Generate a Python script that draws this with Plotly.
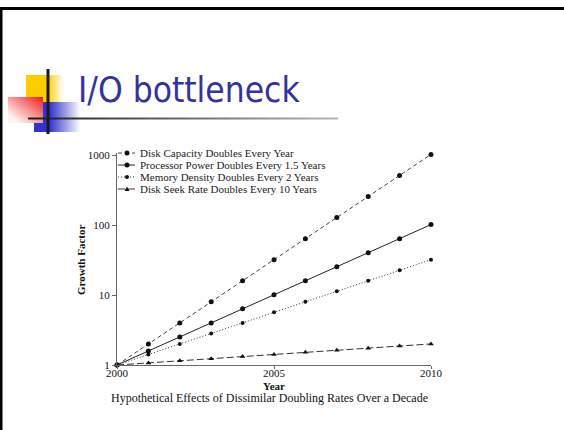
import plotly.graph_objects as go

# ---------------- data ----------------
years = [2000, 2001, 2002, 2003, 2004, 2005, 2006, 2007, 2008, 2009, 2010]
disk_capacity = [1, 2, 4, 8, 16, 32, 64, 128, 256, 512, 1024]
processor_power = [1, 1.59, 2.52, 4.0, 6.35, 10.1, 16.0, 25.4, 40.3, 64.0, 101.6]
memory_density = [1, 1.41, 2.0, 2.83, 4.0, 5.66, 8.0, 11.3, 16.0, 22.6, 32.0]
disk_seek = [1, 1.07, 1.15, 1.23, 1.32, 1.41, 1.52, 1.62, 1.74, 1.87, 2.0]

series_names = [
    "Disk Capacity Doubles Every Year",
    "Processor Power Doubles Every 1.5 Years",
    "Memory Density Doubles Every 2 Years",
    "Disk Seek Rate Doubles Every 10 Years",
]
y_tick_vals = [1, 10, 100, 1000]
y_tick_text = ["1", "10", "100", "1000"]
x_tick_vals = [2000, 2005, 2010]
x_tick_text = ["2000", "2005", "2010"]
slide_title = "I/O bottleneck"
caption = "Hypothetical Effects of Dissimilar Doubling Rates Over a Decade"

# ---------------- layout geometry ----------------
W, H = 564, 430
L, R, T, B = 117, 133, 153, 65
PW, PH = W - L - R, H - T - B


def X(px):
    return (px - L) / PW


def Y(py):
    return (H - B - py) / PH


SERIF = "Liberation Serif, Times New Roman, serif"

styles = [
    dict(dash="4px,3px", symbol="circle", msize=5, col="#444"),
    dict(dash="solid", symbol="circle", msize=5, col="#222"),
    dict(dash="1px,2px", symbol="circle", msize=4, col="#333"),
    dict(dash="7px,3px", symbol="triangle-up", msize=5, col="#333"),
]
all_series = [disk_capacity, processor_power, memory_density, disk_seek]

fig = go.Figure()
for name, vals, st in zip(series_names, all_series, styles):
    fig.add_trace(go.Scatter(
        x=years, y=vals, name=name, mode="lines+markers",
        line=dict(color=st["col"], width=1, dash=st["dash"]),
        marker=dict(symbol=st["symbol"], size=st["msize"], color="#111"),
        cliponaxis=False, showlegend=False,
    ))

shapes = []
annotations = []

# ---------- manual compact legend ----------
leg_y = [153, 165, 177, 189]
for name, st, ly in zip(series_names, styles, leg_y):
    shapes.append(dict(type="line", xref="paper", yref="paper",
                       x0=X(118), x1=X(135), y0=Y(ly), y1=Y(ly),
                       line=dict(color=st["col"], width=1, dash=st["dash"])))
    if st["symbol"] == "circle":
        r = st["msize"] / 2
        shapes.append(dict(type="circle", xref="paper", yref="paper",
                           xsizemode="pixel", ysizemode="pixel",
                           xanchor=X(127), yanchor=Y(ly),
                           x0=-r, x1=r, y0=-r, y1=r,
                           fillcolor="#111", line=dict(width=0)))
    else:
        shapes.append(dict(type="path", xref="paper", yref="paper",
                           xsizemode="pixel", ysizemode="pixel",
                           xanchor=X(127), yanchor=Y(ly),
                           path="M-2.5,-2 L2.5,-2 L0,2.5 Z",
                           fillcolor="#111", line=dict(width=0)))
    annotations.append(dict(text=name, xref="paper", yref="paper",
                            x=X(138), y=Y(ly), xanchor="left", yanchor="middle",
                            showarrow=False,
                            font=dict(family=SERIF, size=11, color="#222")))

# ---------- axis titles & caption ----------
annotations.append(dict(text="<b>Year</b>", xref="paper", yref="paper",
                        x=X(274), y=Y(386), xanchor="center", yanchor="middle",
                        showarrow=False,
                        font=dict(family=SERIF, size=11, color="#111")))
annotations.append(dict(text="<b>Growth Factor</b>", xref="paper", yref="paper",
                        x=X(81), y=Y(260), xanchor="center", yanchor="middle",
                        textangle=-90, showarrow=False,
                        font=dict(family=SERIF, size=11, color="#111")))
annotations.append(dict(text=caption, xref="paper", yref="paper",
                        x=X(269), y=Y(398), xanchor="center", yanchor="middle",
                        showarrow=False,
                        font=dict(family=SERIF, size=12, color="#111")))

# ---------- slide title ----------
annotations.append(dict(text=slide_title, xref="paper", yref="paper",
                        x=X(76), y=Y(90), xanchor="left", yanchor="middle",
                        showarrow=False,
                        font=dict(family="DejaVu Sans Condensed, DejaVu Sans, sans-serif",
                                  size=35, color="#333399")))


def mix(c, t):
    """blend colour c (rgb tuple) toward white by t in [0,1]"""
    return "rgb(%d,%d,%d)" % tuple(int(round(v + (255 - v) * t)) for v in c)


def rect(x0, x1, y0, y1, color):
    shapes.append(dict(type="rect", xref="paper", yref="paper",
                       x0=X(x0), x1=X(x1), y0=Y(y1), y1=Y(y0),
                       fillcolor=color, line=dict(width=0), layer="above"))


# yellow block
YEL = (255, 204, 0)
rect(26, 48, 75, 102, mix(YEL, 0))
for i in range(15):
    rect(48 + i, 49 + i, 75, 102, mix(YEL, (i + 1) / 16))
# blue block
BLU = (51, 51, 204)
rect(34, 50, 102, 132, mix(BLU, 0))
for i in range(30):
    rect(50 + i, 51 + i, 102, 132, mix(BLU, (i + 1) / 31))
# red block (diagonal fade toward bottom-left)
RED = (240, 30, 30)
step = 2
for xi in range(8, 44, step):
    for yi in range(97, 123, step):
        tx = (43 - xi) / 35.0
        ty = (yi - 97) / 26.0
        t = min(1.0, 0.6 * tx + 0.6 * ty)
        rect(xi, min(xi + step, 43), yi, min(yi + step, 123), mix(RED, t * 0.95))
# horizontal rule under the title (fading to grey)
seg = 10
for i, xs in enumerate(range(28, 330, seg)):
    t = i / 30.0
    g = int(30 + 150 * t)
    shapes.append(dict(type="line", xref="paper", yref="paper",
                       x0=X(xs), x1=X(xs + seg), y0=Y(118.5), y1=Y(118.5),
                       line=dict(color="rgb(%d,%d,%d)" % (g, g, g), width=2)))
# vertical black bar
shapes.append(dict(type="line", xref="paper", yref="paper",
                   x0=X(48), x1=X(48), y0=Y(69), y1=Y(134),
                   line=dict(color="#1a1a1a", width=3)))
# slide border (top and left)
shapes.append(dict(type="line", xref="paper", yref="paper",
                   x0=X(0), x1=X(W + 2), y0=Y(8.5), y1=Y(8.5),
                   line=dict(color="#000", width=3)))
shapes.append(dict(type="line", xref="paper", yref="paper",
                   x0=X(1), x1=X(1), y0=Y(7), y1=Y(H + 2),
                   line=dict(color="#000", width=3)))

fig.update_layout(
    width=W, height=H,
    margin=dict(l=L, r=R, t=T, b=B),
    paper_bgcolor="white", plot_bgcolor="white",
    showlegend=False,
    shapes=shapes, annotations=annotations,
    xaxis=dict(range=[2000, 2010], tickvals=x_tick_vals, ticktext=x_tick_text,
               showgrid=False, zeroline=False, showline=True,
               linecolor="#666", linewidth=1, ticks="outside", ticklen=3,
               tickcolor="#666", ticklabelstandoff=-5,
               tickfont=dict(family=SERIF, size=11, color="#111")),
    yaxis=dict(type="log", range=[0, 3.03], tickvals=y_tick_vals, ticktext=y_tick_text,
               showgrid=False, zeroline=False, showline=True,
               linecolor="#666", linewidth=1, ticks="outside", ticklen=4,
               tickcolor="#666",
               tickfont=dict(family=SERIF, size=11, color="#111")),
)

fig.write_html("out.html", config={"displayModeBar": False},
               post_script="document.body.style.margin='0px';document.body.style.overflow='hidden';")
